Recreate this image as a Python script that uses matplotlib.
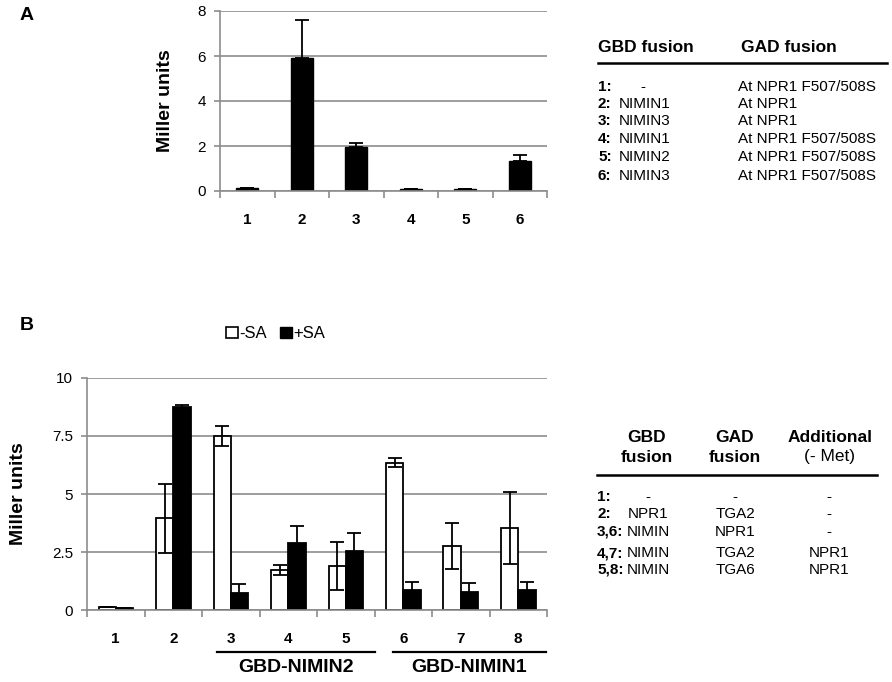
import matplotlib.pyplot as plt
import matplotlib.transforms as mtransforms
from matplotlib.patches import Patch

plt.rcParams['font.family'] = ['Liberation Sans', 'DejaVu Sans']

# Panel A data
a_labels = ['1', '2', '3', '4', '5', '6']
a_values = [0.12, 5.93, 1.95, 0.1, 0.1, 1.32]
a_err = [0.02, 1.68, 0.17, 0.01, 0.01, 0.3]

# Panel B data
b_labels = ['1', '2', '3', '4', '5', '6', '7', '8']
b_minus = [0.12, 3.95, 7.5, 1.72, 1.9, 6.35, 2.76, 3.52]
b_minus_err = [0.01, 1.5, 0.43, 0.21, 1.04, 0.2, 1.0, 1.55]
b_plus = [0.07, 8.74, 0.72, 2.9, 2.54, 0.86, 0.76, 0.88]
b_plus_err = [0.01, 0.08, 0.4, 0.7, 0.8, 0.36, 0.39, 0.34]

# Tables
ta_header = ['GBD fusion', 'GAD fusion']
ta_num = ['1:', '2:', '3:', '4:', '5:', '6:']
ta_gbd = ['-', 'NIMIN1', 'NIMIN3', 'NIMIN1', 'NIMIN2', 'NIMIN3']
ta_gad = ['At NPR1 F507/508S', 'At NPR1', 'At NPR1', 'At NPR1 F507/508S',
          'At NPR1 F507/508S', 'At NPR1 F507/508S']

tb_num = ['1:', '2:', '3,6:', '4,7:', '5,8:']
tb_gbd = ['-', 'NPR1', 'NIMIN', 'NIMIN', 'NIMIN']
tb_gad = ['-', 'TGA2', 'NPR1', 'TGA2', 'TGA6']
tb_add = ['-', '-', '-', 'NPR1', 'NPR1']

W, H = 892, 682
fig = plt.figure(figsize=(W / 100, H / 100), dpi=100)
grid_c = '#8c8c8c'


def px_axes(l, t, r, b):
    return fig.add_axes([l / W, 1 - b / H, (r - l) / W, (b - t) / H])


def style(ax, n, ymax, yticks, yticklabels):
    ax.set_xlim(-0.5, n - 0.5)
    ax.set_ylim(0, ymax)
    ax.set_yticks(yticks)
    ax.set_yticklabels(yticklabels, fontsize=11)
    ax.yaxis.grid(True, color=grid_c, linewidth=1.2)
    ax.set_axisbelow(True)
    for s in ['top', 'right']:
        ax.spines[s].set_visible(False)
    for s in ['left', 'bottom']:
        ax.spines[s].set_color(grid_c)
        ax.spines[s].set_linewidth(1.2)
    ax.tick_params(axis='y', length=4, color=grid_c, width=1.2, pad=6)
    ax.set_xticks(range(n))
    ax.tick_params(axis='x', which='major', length=0, pad=16)
    ax.set_xticks([i - 0.5 for i in range(n + 1)], minor=True)
    ax.tick_params(axis='x', which='minor', length=5, color=grid_c, width=1.2)


# Panel A
axA = px_axes(220, 11, 547, 191)
xa = list(range(len(a_labels)))
axA.bar(xa, a_values, width=0.4, color='black', edgecolor='black')
axA.errorbar(xa, a_values, yerr=[[0] * len(a_err), a_err], fmt='none',
             ecolor='black', elinewidth=1.3, capsize=5, capthick=1.3)
style(axA, 6, 8, [0, 2, 4, 6, 8], ['0', '2', '4', '6', '8'])
axA.set_xticklabels(a_labels, fontsize=11, fontweight='bold')
axA.set_ylabel('Miller units', fontsize=14, fontweight='bold', labelpad=17)
fig.text(20 / W, 1 - 16 / H, 'A', fontsize=14, fontweight='bold', va='center')

# Panel B
axB = px_axes(87, 378, 547, 610)
xb = list(range(len(b_labels)))
bw = 0.3
axB.bar([x - bw / 2 for x in xb], b_minus, width=bw, color='white',
        edgecolor='black', linewidth=1.3, label='-SA')
axB.bar([x + bw / 2 for x in xb], b_plus, width=bw, color='black',
        edgecolor='black', linewidth=1.3, label='+SA')
axB.errorbar([x - bw / 2 for x in xb], b_minus, yerr=b_minus_err, fmt='none',
             ecolor='black', elinewidth=1.3, capsize=5, capthick=1.3)
axB.errorbar([x + bw / 2 for x in xb], b_plus, yerr=b_plus_err, fmt='none',
             ecolor='black', elinewidth=1.3, capsize=5, capthick=1.3)
style(axB, 8, 10, [0, 2.5, 5, 7.5, 10], ['0', '2.5', '5', '7.5', '10'])
axB.set_xticklabels(b_labels, fontsize=11, fontweight='bold')
axB.set_ylabel('Miller units', fontsize=14, fontweight='bold', labelpad=18)
fig.text(20 / W, 1 - 325 / H, 'B', fontsize=14, fontweight='bold', va='center')

handles = [Patch(facecolor='white', edgecolor='black', linewidth=1.2, label='-SA'),
           Patch(facecolor='black', edgecolor='black', label='+SA')]
axB.legend(handles=handles, loc='center', bbox_to_anchor=(0.41, 1.19), ncol=2,
           frameon=False, fontsize=12, handlelength=0.7, handleheight=0.7,
           handletextpad=0.1, columnspacing=0.8)

# group brackets under panel B
trans = mtransforms.blended_transform_factory(axB.transData, axB.transAxes)
groups = [('GBD-NIMIN2', 1.76, 4.51), ('GBD-NIMIN1', 4.82, 7.48)]
for name, x0, x1 in groups:
    axB.plot([x0, x1], [-0.18, -0.18], color='black', linewidth=1.6,
             transform=trans, clip_on=False)
    axB.text((x0 + x1) / 2, -0.25, name, transform=trans, ha='center',
             va='center', fontsize=14, fontweight='bold')

# Table A
fig.text(598 / W, 1 - 47 / H, ta_header[0], fontsize=12.5, fontweight='bold', va='center')
fig.text(741 / W, 1 - 47 / H, ta_header[1], fontsize=12.5, fontweight='bold', va='center')
fig.add_artist(plt.Line2D([598 / W, 887 / W], [1 - 63 / H, 1 - 63 / H],
                          color='black', linewidth=1.8))
rows_a = [87, 104, 121, 139, 157, 176]
for y, num, gbd, gad in zip(rows_a, ta_num, ta_gbd, ta_gad):
    fig.text(598 / W, 1 - y / H, num, fontsize=11, fontweight='bold', va='center')
    if gbd == '-':
        fig.text(643 / W, 1 - y / H, gbd, fontsize=11, va='center', ha='center')
    else:
        fig.text(619 / W, 1 - y / H, gbd, fontsize=11, va='center')
    fig.text(738 / W, 1 - y / H, gad, fontsize=11, va='center')

# Table B
hdr_b = [(647, 'GBD', 'fusion', 'bold'), (735, 'GAD', 'fusion', 'bold'),
         (830, 'Additional', '(- Met)', 'normal')]
for x, top, bottom, w2 in hdr_b:
    fig.text(x / W, 1 - 437 / H, top, fontsize=12.5, fontweight='bold',
             ha='center', va='center')
    fig.text(x / W, 1 - 457 / H, bottom, fontsize=12.5, fontweight=w2,
             ha='center', va='center')
fig.add_artist(plt.Line2D([597 / W, 877 / W], [1 - 475 / H, 1 - 475 / H],
                          color='black', linewidth=1.8))
rows_b = [497, 514, 532, 553, 570]
for y, num, gbd, gad, add in zip(rows_b, tb_num, tb_gbd, tb_gad, tb_add):
    fig.text(597 / W, 1 - y / H, num, fontsize=11, fontweight='bold', va='center')
    fig.text(648 / W, 1 - y / H, gbd, fontsize=11, ha='center', va='center')
    fig.text(735 / W, 1 - y / H, gad, fontsize=11, ha='center', va='center')
    fig.text(829 / W, 1 - y / H, add, fontsize=11, ha='center', va='center')

fig.savefig('out.png', dpi=100)
